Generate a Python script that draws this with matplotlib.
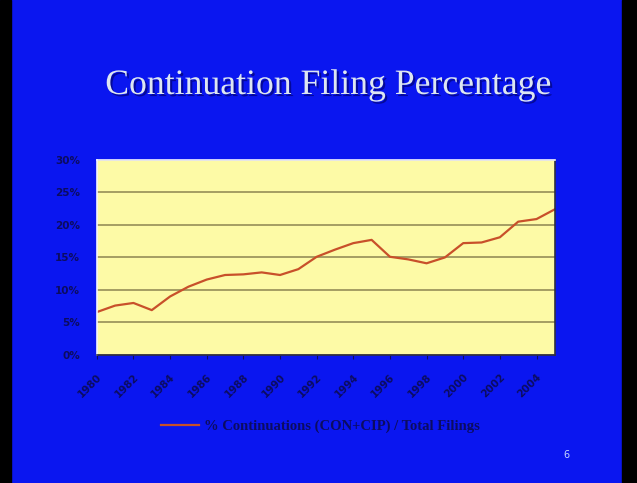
import matplotlib.pyplot as plt
from matplotlib.ticker import FuncFormatter
import matplotlib.patheffects as pe

# continuation filings as share of total filings, by year
years = list(range(1980, 2006))
pct = [6.6, 7.6, 8.0, 6.9, 9.0, 10.5, 11.6, 12.3, 12.4, 12.7, 12.3, 13.2, 15.1,
       16.2, 17.2, 17.7, 15.1, 14.7, 14.1, 15.0, 17.2, 17.3, 18.1, 20.5, 20.9, 22.4]
y_ticks = [0, 5, 10, 15, 20, 25, 30]
legend_label = "% Continuations (CON+CIP) / Total Filings"
title = "Continuation Filing Percentage"

blue = "#0a16f0"

fig = plt.figure(figsize=(6.37, 4.83), dpi=100)
fig.patch.set_facecolor(blue)

# dark edges of the projected slide
fig.add_artist(plt.Rectangle((0, 0), 0.017, 1, transform=fig.transFigure,
                             color="black", zorder=0))
fig.add_artist(plt.Rectangle((0.976, 0), 0.024, 1, transform=fig.transFigure,
                             color="black", zorder=0))

fig.text(0.514, 0.823, title, ha="center", va="center", fontsize=25.7,
         family="Liberation Serif", color="#dde6f2",
         path_effects=[pe.withSimplePatchShadow(offset=(1.5, -1.5), shadow_rgbFace="#000060", alpha=0.6)])

ax = fig.add_axes([0.152, 0.265, 0.719, 0.404])
ax.set_facecolor("#fdfaa6")
x = list(range(len(years)))
line, = ax.plot(x, pct, color="#c8502a", lw=1.6, label=legend_label)
ax.set_xlim(0, len(years) - 1)
ax.set_ylim(0, 30)
ax.set_yticks(y_ticks)
ax.yaxis.set_major_formatter(FuncFormatter(lambda v, p: f"{v:.0f}%"))
ax.yaxis.grid(True, color="#8c8450", lw=1.1)
ax.set_axisbelow(True)
ax.set_xticks(x[::2])
ax.set_xticklabels([str(y) for y in years[::2]], rotation=45, ha="right",
                   rotation_mode="anchor")
ax.tick_params(colors="#0c0c60", labelsize=7.5, length=3)
ax.tick_params(axis="y", pad=12, length=0)
ax.tick_params(axis="x", pad=9)
for t in ax.get_xticklabels() + ax.get_yticklabels():
    t.set_fontweight("bold")
for s in ["top", "left"]:
    ax.spines[s].set_color("#f4f4ff")
for s in ["bottom", "right"]:
    ax.spines[s].set_color("#303040")
for s in ax.spines.values():
    s.set_linewidth(1.2)

leg = fig.legend(handles=[line], loc="center", bbox_to_anchor=(0.503, 0.117),
                 frameon=False, fontsize=10, handlelength=2.6, handletextpad=0.3,
                 prop={"family": "Liberation Serif", "size": 10.5, "weight": "bold"})
for t in leg.get_texts():
    t.set_color("#0c0c60")

fig.text(0.889, 0.058, "6", fontsize=7, color="#c8d8ff", ha="center", va="center")

fig.savefig("out.png", dpi=100, facecolor=fig.get_facecolor())
